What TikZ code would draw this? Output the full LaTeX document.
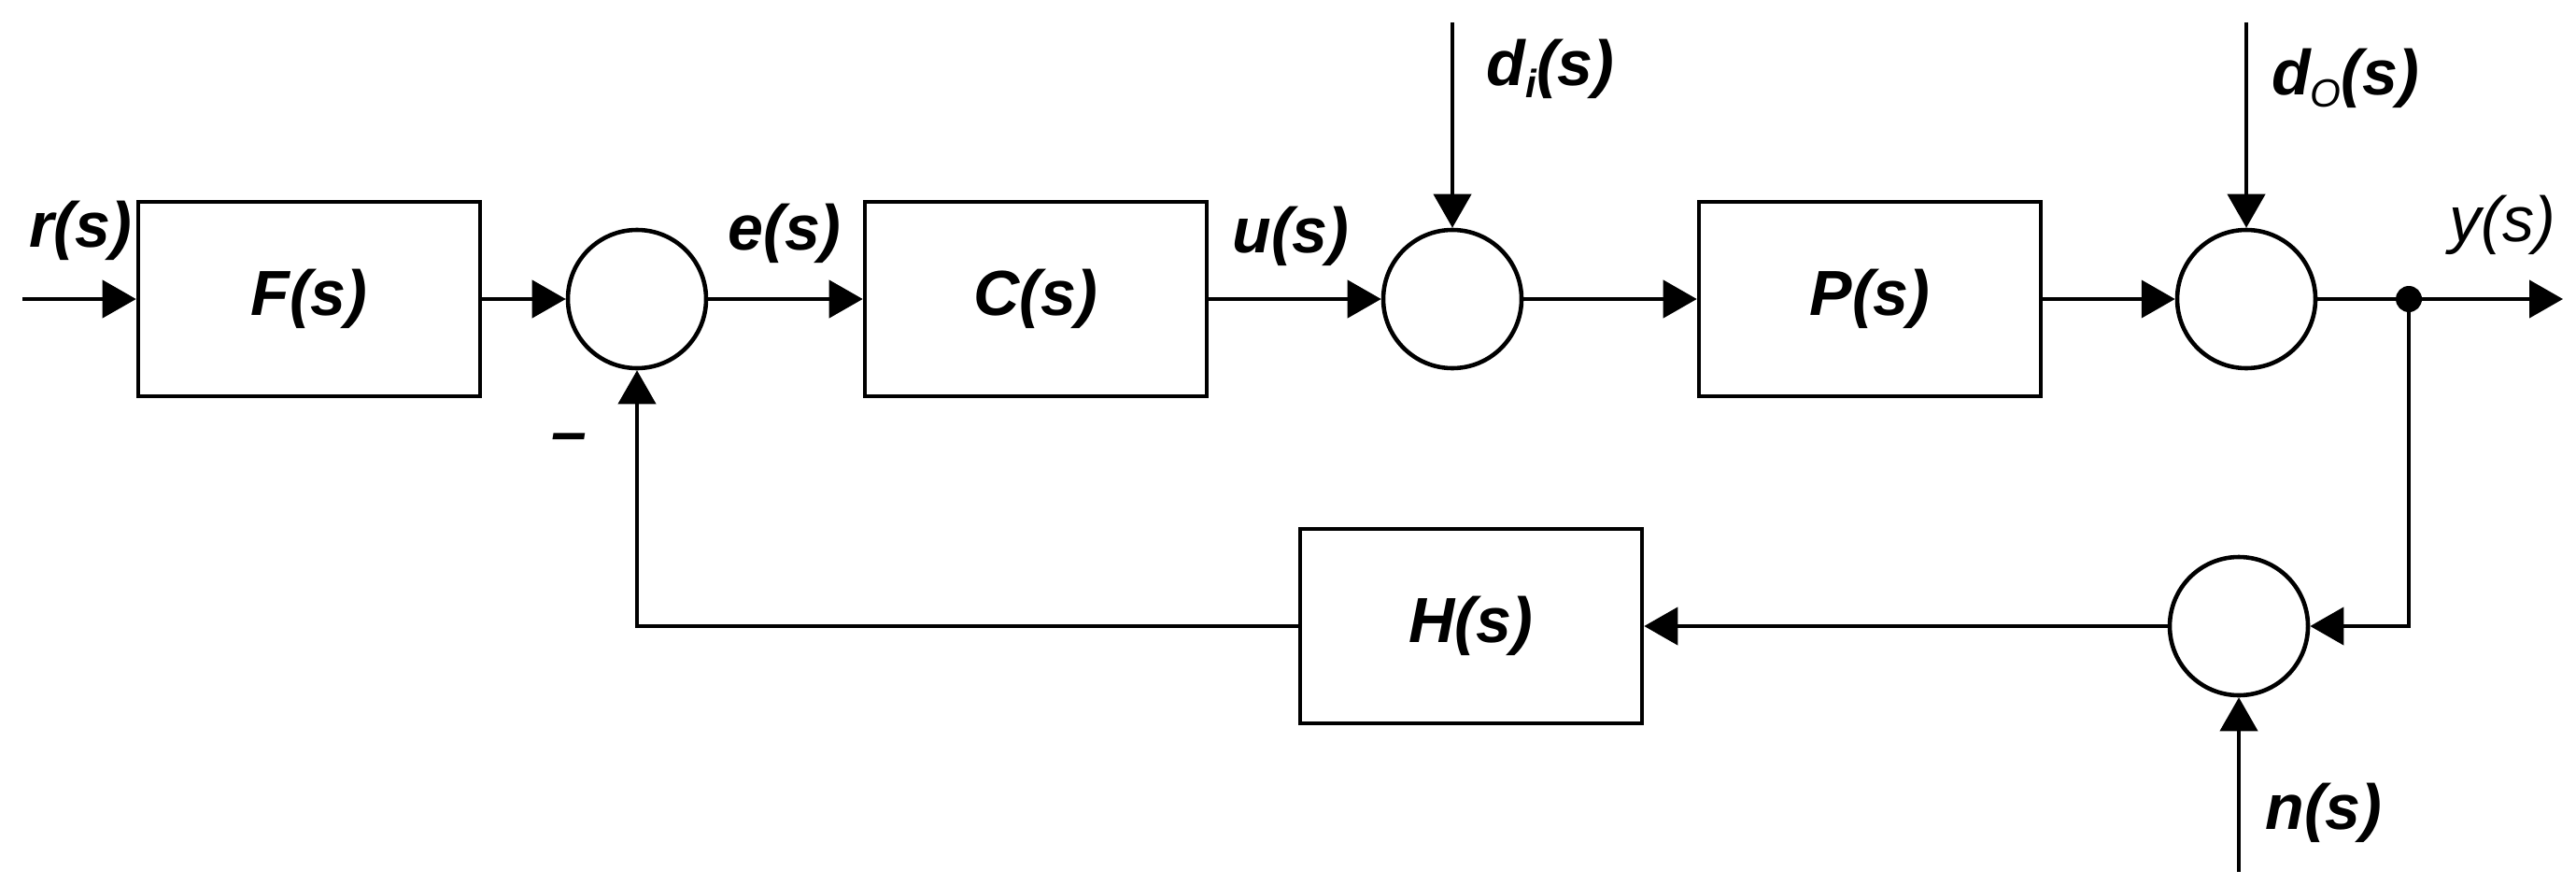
\documentclass[tikz,border=0pt]{standalone}
\usepackage{fontspec}
\setmainfont{Liberation Sans}
\usetikzlibrary{arrows.meta}
\newcommand{\sigfont}{\fontsize{19.4pt}{23pt}\selectfont\bfseries\itshape}
\newcommand{\subfont}{\fontsize{12pt}{12pt}\selectfont}
\tikzset{
  block/.style={draw, line width=1.3pt, minimum width=3.66cm, minimum height=2.08cm, font=\sigfont},
  sum/.style={draw, circle, line width=1.3pt, minimum size=1.48cm, inner sep=0pt},
  sig/.style={line width=1.2pt, -{Triangle[length=3.6mm,width=4mm]}},
  lbl/.style={font=\sigfont, inner sep=0pt},
}
\begin{document}
\begin{tikzpicture}
    \useasboundingbox (0,0) rectangle (27.58,9.46);
    % forward path
    \node[block] (F) at (3.31,6.26) {F(s)};
    \node[sum] (s1) at (6.82,6.26) {};
    \node[block] (C) at (11.09,6.26) {C(s)};
    \node[sum] (s2) at (15.55,6.26) {};
    \node[block] (P) at (20.02,6.26) {P(s)};
    \node[sum] (s3) at (24.05,6.26) {};
    % feedback path
    \node[block] (H) at (15.75,2.76) {H(s)};
    \node[sum] (s4) at (23.97,2.76) {};
    % free ends
    \coordinate (rin) at (0.24,6.26);
    \coordinate (yout) at (27.44,6.26);
    \coordinate (yj) at (25.79,6.26);
    \coordinate (din) at (15.55,9.22);
    \coordinate (dout) at (24.05,9.22);
    \coordinate (nin) at (23.97,0.13);
    % connectors
    \draw[sig] (rin) -- (F);
    \draw[sig] (F) -- (s1);
    \draw[sig] (s1) -- (C);
    \draw[sig] (C) -- (s2);
    \draw[sig] (s2) -- (P);
    \draw[sig] (P) -- (s3);
    \draw[sig] (din) -- (s2);
    \draw[sig] (dout) -- (s3);
    \draw[line width=1.2pt] (s3) -- (yj);
    \draw[sig] (yj) -- (yout);
    \fill (yj) circle (0.14);
    \draw[sig] (yj) |- (s4);
    \draw[sig] (nin) -- (s4);
    \draw[sig] (s4) -- (H);
    \draw[sig] (H.west) -| (s1.south);
    % labels
    \node[lbl] (rlbl) at (0.86,6.99) {r(s)};
    \node[lbl] (elbl) at (8.40,6.96) {e(s)};
    \node[lbl] (ulbl) at (13.82,6.93) {u(s)};
    \node[lbl] (dilbl) at (16.60,8.72) {d\raisebox{-0.35ex}{\subfont i}(s)};
    \node[lbl] (dolbl) at (25.11,8.62) {d\raisebox{-0.35ex}{\subfont\mdseries O}(s)};
    \node[lbl, font=\fontsize{19.4pt}{23pt}\selectfont\itshape] (ylbl) at (26.79,7.05) {y(s)};
    \node[lbl] (nlbl) at (24.88,0.76) {n(s)};
    \node[lbl] (minus) at (6.09,4.71) {--};
\end{tikzpicture}
\end{document}
